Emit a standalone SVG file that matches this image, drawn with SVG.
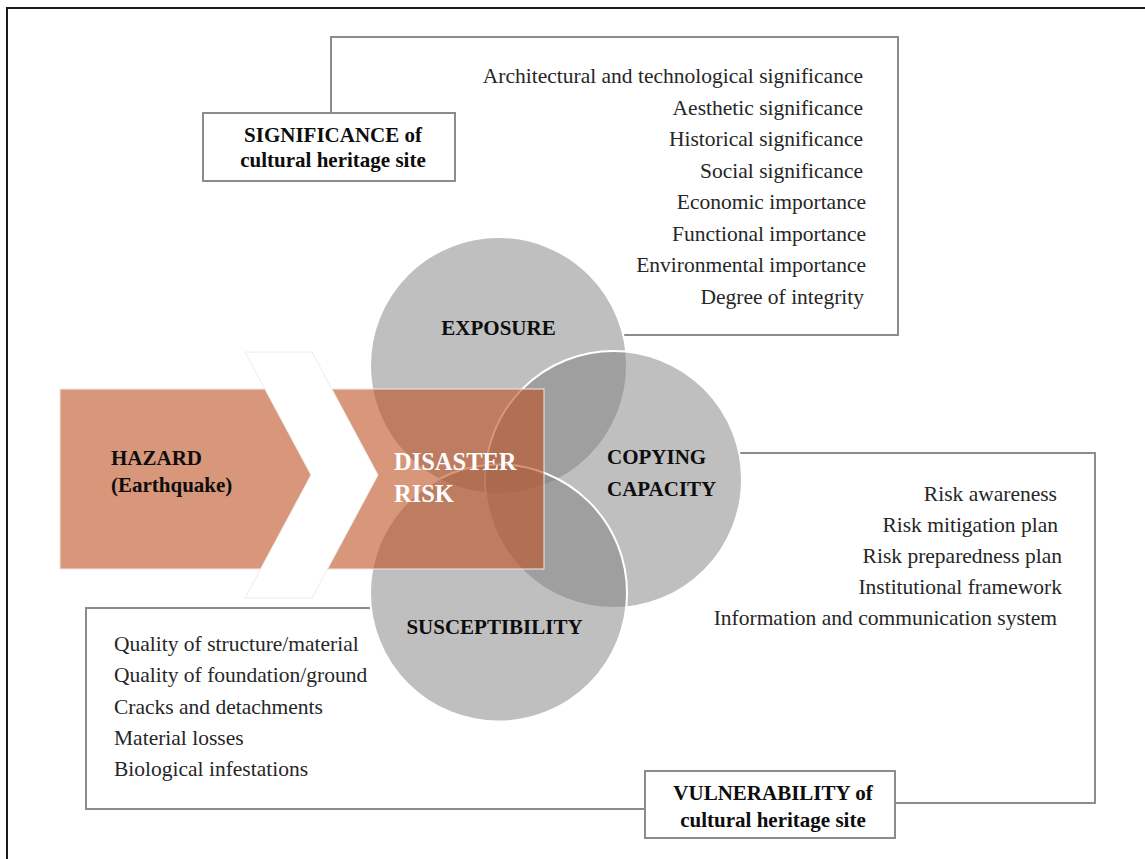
<svg xmlns="http://www.w3.org/2000/svg" width="1145" height="859" viewBox="0 0 1145 859">
<style>
.frame{fill:none;stroke:#1a1a1a;stroke-width:2}
.conn{fill:none;stroke:#8c8c8c;stroke-width:2}
.box{fill:#ffffff;stroke:#8c8c8c;stroke-width:2}
.circ{fill:#7f7f7f;fill-opacity:0.5;stroke:#ffffff;stroke-width:2}
.orange{fill:#be5023;fill-opacity:0.6;stroke:#f3e8e2;stroke-width:1}
.chev{fill:#ffffff;stroke:#ececec;stroke-width:1}
.b{font-family:"Liberation Serif","Times New Roman",serif;font-weight:bold;font-size:21px;fill:#0d0d0d}
.w{font-family:"Liberation Serif","Times New Roman",serif;font-weight:bold;font-size:24.5px;fill:#ffffff}
.t{font-family:"Liberation Serif","Times New Roman",serif;font-size:21.5px;fill:#262626}
.c{text-anchor:middle}
.e{text-anchor:end}
</style>
<rect class="frame" x="7" y="8" width="1150" height="870"/>
<g id="connectors">
<polyline class="conn" points="331,113 331,37 898,37 898,335 623,335"/>
<polyline class="conn" points="740,453 1095,453 1095,803 895,803"/>
<polyline class="conn" points="371,608 86,608 86,809 645,809"/>
</g>
<g id="significance-list">
<text class="t e" x="863" y="83">Architectural and technological significance</text>
<text class="t e" x="863" y="114.5">Aesthetic significance</text>
<text class="t e" x="863" y="146">Historical significance</text>
<text class="t e" x="863" y="177.5">Social significance</text>
<text class="t e" x="866" y="209">Economic importance</text>
<text class="t e" x="866" y="240.5">Functional importance</text>
<text class="t e" x="866" y="272">Environmental importance</text>
<text class="t e" x="864" y="303.5">Degree of integrity</text>
</g>
<g id="coping-list">
<text class="t e" x="1057" y="501">Risk awareness</text>
<text class="t e" x="1058" y="532">Risk mitigation plan</text>
<text class="t e" x="1062" y="563">Risk preparedness plan</text>
<text class="t e" x="1062" y="594">Institutional framework</text>
<text class="t e" x="1057" y="625">Information and communication system</text>
</g>
<g id="susceptibility-list">
<text class="t" x="114" y="651">Quality of structure/material</text>
<text class="t" x="114" y="682.3">Quality of foundation/ground</text>
<text class="t" x="114" y="713.5">Cracks and detachments</text>
<text class="t" x="114" y="744.8">Material losses</text>
<text class="t" x="114" y="776">Biological infestations</text>
</g>
<g id="significance">
<rect class="box" x="203" y="113" width="252" height="68"/>
<text class="b c" x="333" y="142">SIGNIFICANCE of</text>
<text class="b c" x="333" y="167">cultural heritage site</text>
</g>
<g id="vulnerability">
<rect class="box" x="645" y="771" width="250" height="67"/>
<text class="b c" x="773" y="800">VULNERABILITY of</text>
<text class="b c" x="773" y="827">cultural heritage site</text>
</g>
<g id="exposure">
<circle class="circ" cx="498.5" cy="365.5" r="128.5"/>
</g>
<g id="copying-capacity">
<circle class="circ" cx="613.5" cy="479.5" r="128.5"/>
</g>
<g id="susceptibility">
<circle class="circ" cx="498.5" cy="593" r="128.5"/>
</g>
<g id="hazard-risk">
<rect class="orange" x="60" y="389" width="484" height="180"/>
<polygon class="chev" points="245,352 312,352 378,475 312,598 245,598 311,475"/>
</g>
<g id="labels">
<text class="b c" x="498.5" y="335">EXPOSURE</text>
<text class="b" x="607" y="464">COPYING</text>
<text class="b" x="607" y="496">CAPACITY</text>
<text class="b c" x="494.5" y="634">SUSCEPTIBILITY</text>
<text class="b" x="111" y="465">HAZARD</text>
<text class="b" x="111" y="492">(Earthquake)</text>
<text class="w" x="394" y="470">DISASTER</text>
<text class="w" x="394" y="502">RISK</text>
</g>
</svg>
